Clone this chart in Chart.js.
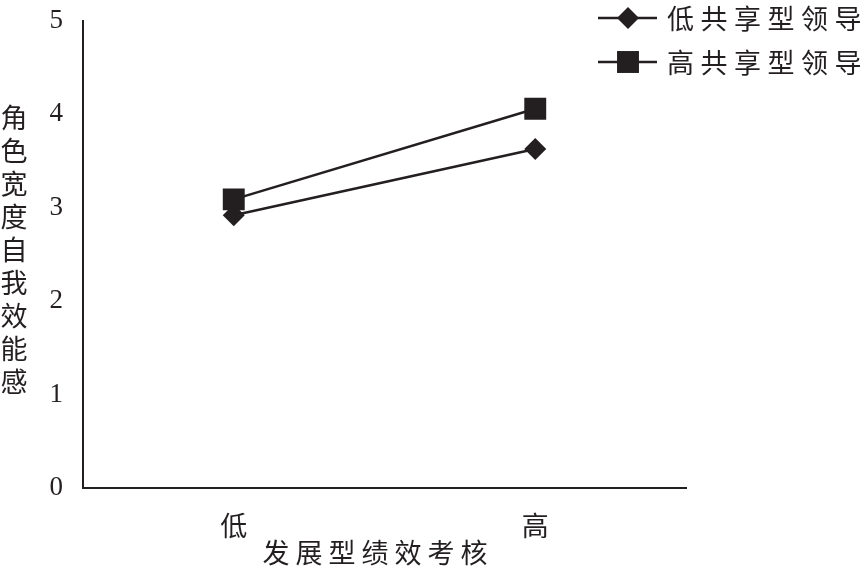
<!DOCTYPE html>
<html>
<head>
<meta charset="utf-8">
<script src="https://cdn.jsdelivr.net/npm/chart.js@4/dist/chart.umd.min.js"></script>
<style>
  body { margin: 0; background: #fff; }
  #wrap { width: 864px; height: 570px; position: relative; }
</style>
</head>
<body>
<div id="wrap"><canvas id="chart"></canvas></div>
<script>
// data
const categories = ['低', '高'];
const lowSharedValues = [2.92, 3.63];
const highSharedValues = [3.09, 4.06];
const seriesNames = ['低共享型领导', '高共享型领导'];
const xTitle = '发展型绩效考核';
const yTitle = '角色宽度自我效能感';

const ink = '#231f20';
const cjk = '"Noto Sans CJK SC", "Noto Sans CJK JP", sans-serif';

// draws the legend and the two axis titles (stacked y title, spaced x title)
const extraText = {
    id: 'extraText',
    afterDraw(chart) {
        const ctx = chart.ctx;
        ctx.save();

        // legend
        chart.data.datasets.forEach(function (ds, i) {
            const y = 18 + 44 * i;
            ctx.strokeStyle = ds.borderColor;
            ctx.lineWidth = 2.5;
            ctx.beginPath();
            ctx.moveTo(598, y);
            ctx.lineTo(657, y);
            ctx.stroke();

            ctx.fillStyle = ds.pointBackgroundColor;
            ctx.beginPath();
            if (ds.pointStyle === 'rectRot') {
                const r = ds.pointRadius;
                ctx.moveTo(628, y - r);
                ctx.lineTo(628 + r, y);
                ctx.lineTo(628, y + r);
                ctx.lineTo(628 - r, y);
                ctx.closePath();
            } else {
                const h = ds.pointRadius * Math.SQRT1_2;
                ctx.rect(628 - h, y - h, 2 * h, 2 * h);
            }
            ctx.fill();

            ctx.fillStyle = ink;
            ctx.font = '27px ' + cjk;
            ctx.letterSpacing = '6.5px';
            ctx.textAlign = 'left';
            ctx.textBaseline = 'middle';
            ctx.fillText(ds.label, 667, y + 1);
        });

        // x axis title
        ctx.font = '27px ' + cjk;
        ctx.letterSpacing = '6px';
        ctx.textAlign = 'center';
        ctx.textBaseline = 'middle';
        ctx.fillStyle = ink;
        ctx.fillText(xTitle, 378, 553);

        // y axis title, one character under another
        ctx.letterSpacing = '0px';
        const chars = Array.from(yTitle);
        for (let i = 0; i < chars.length; i++) {
            ctx.fillText(chars[i], 14, 118 + 33 * i);
        }
        ctx.restore();
    }
};

const ctx = document.getElementById('chart').getContext('2d');
const chart = new Chart(ctx, {
    type: 'line',
    data: {
        labels: categories,
        datasets: [
            {
                label: seriesNames[0],
                data: lowSharedValues,
                borderColor: ink,
                backgroundColor: ink,
                pointBackgroundColor: ink,
                pointBorderWidth: 0,
                borderWidth: 2.5,
                pointStyle: 'rectRot',
                pointRadius: 11,
                fill: false,
                tension: 0
            },
            {
                label: seriesNames[1],
                data: highSharedValues,
                borderColor: ink,
                backgroundColor: ink,
                pointBackgroundColor: ink,
                pointBorderWidth: 0,
                borderWidth: 2.5,
                pointStyle: 'rect',
                pointRadius: 15.5,
                fill: false,
                tension: 0
            }
        ]
    },
    options: {
        responsive: true,
        maintainAspectRatio: false,
        animation: false,
        layout: {
            padding: { left: 0, right: 178, top: 21, bottom: 0 }
        },
        scales: {
            x: {
                offset: true,
                grid: { display: false, drawTicks: false },
                border: { display: true, color: ink, width: 2 },
                ticks: {
                    color: ink,
                    padding: 22,
                    maxRotation: 0,
                    font: { family: cjk, size: 27 }
                },
                afterFit: function (scale) { scale.height = 82; }
            },
            y: {
                min: 0,
                max: 5,
                grid: { display: false, drawTicks: false },
                border: { display: true, color: ink, width: 2 },
                ticks: {
                    stepSize: 1,
                    color: ink,
                    padding: 20,
                    font: { family: '"Liberation Serif", "DejaVu Serif", serif', size: 27 }
                },
                afterFit: function (scale) {
                    scale.width = 83;
                    scale.paddingTop = 0;
                    scale.paddingBottom = 0;
                }
            }
        },
        plugins: {
            legend: { display: false },
            tooltip: { enabled: false }
        }
    },
    plugins: [extraText]
});
</script>
</body>
</html>
